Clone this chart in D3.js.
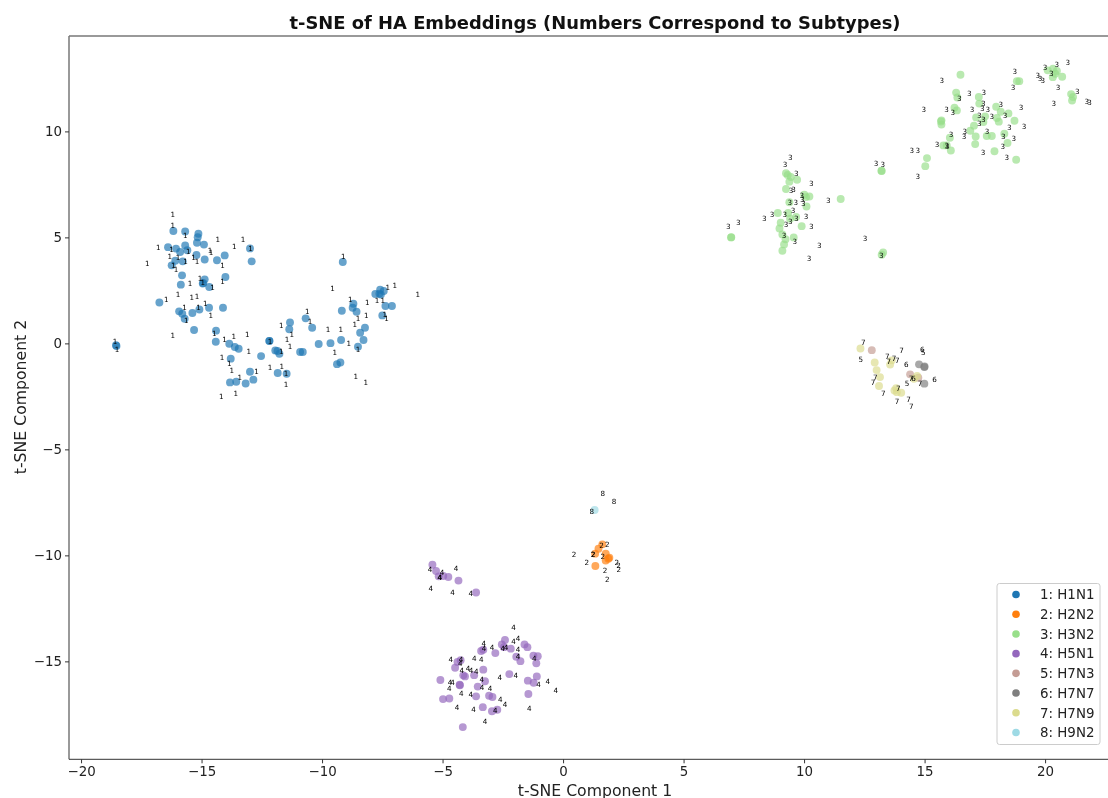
<!DOCTYPE html>
<html><head><meta charset="utf-8"><script src="https://cdn.jsdelivr.net/npm/d3@7"></script>
<style>html,body{margin:0;padding:0;background:#fff;overflow:hidden}svg{display:block;font-family:"DejaVu Sans",sans-serif;filter:blur(0.45px)}</style>
</head><body><svg id="c" width="1108" height="798"></svg>
<script>
const legendNames=["1: H1N1","2: H2N2","3: H3N2","4: H5N1","5: H7N3","6: H7N7","7: H7N9","8: H9N2"];
const colors=["#1f77b4","#ff7f0e","#98df8a","#9467bd","#c49c94","#7f7f7f","#dbdb8d","#9edae5"];
const xTicks=[-20,-15,-10,-5,0,5,10,15,20];
const yTicks=[-15,-10,-5,0,5,10];
const points1=[[-16.17,5.3],[-15.68,5.28],[-15.13,5.17],[-15.16,5.01],[-15.19,4.75],[-14.9,4.66],[-15.68,4.62],[-16.39,4.54],[-16.06,4.47],[-15.89,4.31],[-15.59,4.39],[-15.21,4.17],[-14.04,4.15],[-12.99,4.48],[-12.92,3.87],[-14.87,3.96],[-14.36,3.92],[-16.09,3.9],[-15.78,3.87],[-16.24,3.68],[-15.81,3.21],[-14.01,3.13],[-14.87,3.02],[-15.86,2.77],[-14.95,2.82],[-14.93,2.85],[-14.68,2.66],[-16.75,1.93],[-14.69,1.68],[-14.11,1.68],[-15.09,1.6],[-15.93,1.51],[-15.8,1.4],[-15.38,1.43],[-15.7,1.16],[-15.31,0.63],[-14.4,0.6],[-14.41,0.08],[-13.85,-0.02],[-13.62,-0.17],[-13.46,-0.25],[-13.79,-0.72],[-12.53,-0.6],[-12.19,0.11],[-12.18,0.12],[-11.94,-0.33],[-11.85,-0.36],[-11.77,-0.49],[-12.99,-1.34],[-11.84,-1.4],[-11.47,-1.43],[-12.85,-1.71],[-13.17,-1.89],[-13.56,-1.81],[-13.82,-1.84],[-11.33,0.99],[-11.36,0.67],[-10.91,-0.41],[-9.14,3.84],[-10.68,1.18],[-10.41,0.74],[-9.18,1.54],[-8.7,1.87],[-8.73,1.68],[-8.57,1.49],[-7.79,2.33],[-7.59,2.53],[-7.44,2.47],[-7.62,2.34],[-7.56,2.3],[-7.37,1.76],[-7.1,1.76],[-7.5,1.32],[-8.22,0.74],[-8.42,0.5],[-8.28,0.16],[-8.51,-0.16],[-9.21,0.16],[-9.65,0.01],[-10.14,-0.03],[-10.8,-0.41],[-9.24,-0.9],[-9.38,-0.98],[-18.55,-0.09],[-18.53,-0.12]];
const labels1=[[-16.19,6.08],[-16.19,5.57],[-15.67,5.09],[-14.33,4.92],[-13.28,4.92],[-13.64,4.56],[-16.79,4.54],[-16.25,4.45],[-15.55,4.32],[-14.65,4.39],[-14.61,4.31],[-12.97,4.5],[-16.32,4.1],[-15.98,4.04],[-15.33,4.07],[-15.66,3.87],[-15.19,3.85],[-17.25,3.79],[-16.17,3.68],[-16.06,3.47],[-14.13,3.69],[-15.06,3.08],[-14.13,2.94],[-14.95,2.89],[-15.48,2.82],[-14.54,2.64],[-15.98,2.31],[-16.46,2.09],[-15.41,2.15],[-15.19,2.22],[-14.85,1.87],[-15.13,1.67],[-15.71,1.68],[-14.62,1.32],[-15.63,1.08],[-16.19,0.36],[-14.47,0.49],[-14.05,0.19],[-13.66,0.32],[-13.1,0.41],[-13.04,-0.39],[-14.15,-0.68],[-13.85,-0.97],[-13.75,-1.27],[-12.72,-1.34],[-13.41,-1.62],[-14.18,-2.51],[-13.58,-2.37],[-11.69,0.85],[-11.26,0.41],[-11.45,0.19],[-12.16,0.11],[-11.33,-0.14],[-11.69,-0.36],[-12.16,-1.12],[-11.67,-1.08],[-11.49,-1.4],[-11.49,-1.93],[-9.12,4.12],[-9.56,2.59],[-7.27,2.66],[-6.98,2.74],[-6.03,2.3],[-8.83,2.09],[-8.12,1.92],[-7.72,2.03],[-7.48,2.01],[-7.4,1.37],[-7.32,1.19],[-10.61,1.52],[-10.5,1.05],[-8.16,1.31],[-8.51,1.17],[-8.64,0.88],[-9.75,0.67],[-9.22,0.65],[-8.89,0.01],[-8.51,-0.27],[-9.47,-0.42],[-8.6,-1.57],[-8.19,-1.84],[-18.59,0.09],[-18.51,-0.28]];
const points2=[[1.63,-9.48],[1.47,-9.69],[1.33,-9.92],[1.77,-9.92],[1.92,-10.11],[1.77,-10.24],[1.34,-10.5],[1.88,-10.16]];
const labels2=[[0.46,-9.94],[0.98,-10.34],[1.24,-9.98],[1.6,-9.53],[1.83,-9.48],[1.65,-10.05],[2.23,-10.34],[2.3,-10.47],[2.31,-10.67],[1.74,-10.72],[1.83,-11.15],[1.25,-9.96]];
const points3=[[6.97,5],[6.98,5.01],[9.25,8.03],[9.32,7.94],[9.45,7.85],[9.71,7.72],[9.39,7.63],[9.25,7.28],[10.01,7.01],[10.22,6.93],[10.08,6.9],[10.1,6.46],[11.52,6.81],[9.39,6.66],[8.91,6.15],[9.34,6.15],[9.67,5.96],[9.42,5.88],[9.03,5.69],[9.9,5.53],[8.98,5.42],[9.1,5.14],[9.57,5],[9.23,4.91],[9.17,4.67],[9.1,4.37],[13.21,8.14],[13.22,8.13],[13.28,4.29],[13.22,4.18],[16.49,12.67],[16.31,11.83],[16.36,11.6],[17.25,11.62],[17.27,11.31],[16.24,11.12],[16.34,10.99],[17.97,11.16],[18.16,10.93],[18.48,10.85],[15.7,10.52],[15.68,10.47],[15.7,10.32],[17.14,10.66],[17.51,10.71],[18,10.63],[18.08,10.46],[18.73,10.5],[17.44,10.44],[17.05,10.27],[16.9,10.03],[18.31,9.89],[17.12,9.76],[17.58,9.78],[17.79,9.78],[16.05,9.7],[18.44,9.45],[17.1,9.4],[15.78,9.34],[15.92,9.34],[16.09,9.1],[17.9,9.06],[18.8,8.66],[15.1,8.74],[15.03,8.36],[18.83,12.37],[18.93,12.37],[20.11,12.88],[20.33,12.96],[20.49,12.85],[20.42,12.72],[20.32,12.56],[20.71,12.58],[21.08,11.76],[21.16,11.62],[21.12,11.46]];
const labels3=[[9.43,8.76],[9.21,8.43],[9.68,8],[10.3,7.53],[9.46,7.22],[9.56,7.25],[9.9,6.98],[9.93,6.78],[11,6.76],[9.41,6.66],[9.66,6.63],[9.97,6.59],[9.54,6.27],[8.67,6.07],[9.2,6.08],[8.35,5.91],[10.08,5.97],[9.68,5.88],[9.43,5.75],[9.25,5.61],[10.3,5.52],[7.27,5.72],[6.86,5.53],[9.17,5.09],[9.61,4.8],[10.63,4.64],[10.21,4.01],[12.99,8.48],[13.27,8.43],[12.53,4.97],[13.2,4.14],[18.74,12.82],[15.71,12.41],[20,13.02],[20.49,13.14],[20.94,13.24],[20.26,12.72],[19.7,12.63],[19.79,12.49],[19.9,12.42],[18.67,12.06],[20.54,12.06],[21.34,11.9],[16.85,11.79],[17.46,11.84],[16.44,11.57],[20.36,11.33],[21.73,11.43],[21.84,11.38],[17.44,11.33],[18.16,11.29],[19,11.12],[14.97,11.02],[15.91,11.02],[16.17,10.88],[16.97,11.05],[17.39,11.07],[17.62,11.02],[17.27,10.73],[17.79,10.69],[18.34,10.73],[17.44,10.55],[17.27,10.36],[18.52,10.17],[19.13,10.24],[16.67,10],[16.64,9.75],[16.1,9.84],[17.59,10],[18.27,9.76],[18.7,9.65],[15.52,9.37],[15.92,9.32],[15.93,9.3],[18.24,9.28],[14.47,9.12],[14.72,9.09],[17.43,9.02],[18.41,8.76],[14.72,7.88]];
const points4=[[-5.42,-10.44],[-5.27,-10.74],[-5.16,-10.99],[-4.97,-10.97],[-4.76,-11.02],[-4.34,-11.19],[-3.61,-11.75],[-2.41,-13.99],[-2.54,-14.2],[-2.45,-14.33],[-2.17,-14.4],[-1.6,-14.2],[-1.48,-14.33],[-3.4,-14.51],[-3.31,-14.45],[-2.81,-14.61],[-1.94,-14.78],[-1.77,-14.99],[-1.23,-14.73],[-1.05,-14.76],[-1.11,-15.09],[-4.38,-15.03],[-4.25,-14.95],[-4.48,-15.3],[-3.31,-15.39],[-4.14,-15.66],[-4.07,-15.71],[-3.69,-15.65],[-2.23,-15.6],[-1.09,-15.71],[-1.46,-15.91],[-1.22,-16.01],[-5.09,-15.88],[-3.24,-15.94],[-4.29,-16.1],[-4.28,-16.13],[-3.54,-16.19],[-1.44,-16.54],[-3.61,-16.65],[-3.07,-16.62],[-2.93,-16.68],[-4.98,-16.78],[-4.72,-16.75],[-3.33,-17.16],[-2.95,-17.35],[-2.73,-17.28],[-4.16,-18.1]];
const labels4=[[-5.52,-10.66],[-4.44,-10.63],[-5.02,-10.8],[-5.1,-11.05],[-5.13,-11.05],[-5.49,-11.54],[-4.59,-11.73],[-3.83,-11.81],[-2.05,-13.4],[-1.87,-13.9],[-2.06,-14.06],[-3.29,-14.18],[-3.28,-14.4],[-2.95,-14.36],[-2.5,-14.4],[-2.37,-14.33],[-1.87,-14.45],[-1.87,-14.76],[-1.19,-14.88],[-4.66,-14.92],[-4.23,-14.89],[-4.26,-15.08],[-3.68,-14.88],[-3.39,-14.89],[-4.2,-15.42],[-3.94,-15.32],[-3.82,-15.42],[-3.6,-15.5],[-2.63,-15.74],[-1.96,-15.66],[-3.37,-15.86],[-4.69,-15.98],[-4.59,-15.99],[-1.02,-16.07],[-0.63,-15.96],[-0.3,-16.38],[-4.72,-16.29],[-3.36,-16.23],[-3.03,-16.26],[-4.22,-16.5],[-3.83,-16.56],[-2.6,-16.79],[-2.41,-17.03],[-4.4,-17.16],[-3.71,-17.26],[-2.81,-17.33],[-1.4,-17.22],[-3.24,-17.82]];
const points5=[[12.81,-0.32],[14.4,-1.46],[14.74,-1.62]];
const labels5=[[12.35,-0.74],[14.95,-0.41],[14.27,-1.9]];
const points6=[[14.77,-0.99],[14.99,-1.12],[15,-1.09],[14.99,-1.9]];
const labels6=[[14.91,-0.28],[14.24,-0.98],[15.41,-1.71],[14.54,-1.64]];
const points7=[[12.34,-0.24],[12.93,-0.9],[13.01,-1.26],[13.15,-1.59],[13.11,-2.01],[13.64,-0.8],[13.57,-1],[13.75,-2.22],[13.85,-2.3],[14.03,-2.33],[13.82,-2.11],[14.69,-1.54],[14.56,-1.67]];
const labels7=[[12.46,0.03],[13.45,-0.6],[13.73,-0.72],[13.51,-0.86],[13.87,-0.83],[14.04,-0.33],[12.96,-1.62],[12.86,-1.83],[14.44,-1.67],[14.81,-1.9],[13.29,-2.34],[13.91,-2.14],[13.86,-2.72],[14.33,-2.64],[14.45,-2.99]];
const points8=[[1.31,-7.86]];
const labels8=[[1.65,-7.06],[2.12,-7.44],[1.19,-7.94]];
const seriesPoints=[points1,points2,points3,points4,points5,points6,points7,points8];
const seriesLabels=[labels1,labels2,labels3,labels4,labels5,labels6,labels7,labels8];

const svg=d3.select("#c");
const x0=69,x1=1121,y0=36,y1=759.3;
const x=d3.scaleLinear().domain([-20.5,23.15]).range([x0,x1]);
const y=d3.scaleLinear().domain([-19.62,14.5]).range([y1,y0]);
const minus=d=>String(d).replace("-","\u2212");

const g=svg.append("g");
seriesPoints.forEach((pts,i)=>{
  g.append("g").selectAll("circle").data(pts).join("circle")
    .attr("cx",d=>x(d[0])).attr("cy",d=>y(d[1])).attr("r",3.95)
    .attr("fill",colors[i]).attr("fill-opacity",0.68);
});
seriesLabels.forEach((lbs,i)=>{
  g.append("g").selectAll("text").data(lbs).join("text")
    .attr("x",d=>x(d[0])).attr("y",d=>y(d[1])).attr("dy","0.35em")
    .attr("text-anchor","middle").attr("font-size",7.2).attr("fill","#000")
    .text(i+1);
});

// frame
svg.append("line").attr("x1",x0).attr("x2",x0).attr("y1",y0).attr("y2",y1).attr("stroke","#777").attr("stroke-width",1.5);
svg.append("line").attr("x1",x0).attr("x2",x1).attr("y1",y0).attr("y2",y0).attr("stroke","#777").attr("stroke-width",1.5);
svg.append("line").attr("x1",x0).attr("x2",x1).attr("y1",y1).attr("y2",y1).attr("stroke","#333").attr("stroke-width",1);

const ax=svg.append("g").attr("transform",`translate(0,${y1})`).call(d3.axisBottom(x).tickValues(xTicks).tickSize(4).tickPadding(3.5).tickFormat(minus));
const ay=svg.append("g").attr("transform",`translate(${x0},0)`).call(d3.axisLeft(y).tickValues(yTicks).tickSize(4).tickPadding(3).tickFormat(minus));
[ax,ay].forEach(a=>{
  a.select(".domain").remove();
  a.selectAll("line").attr("stroke","#333");
  a.selectAll("text").attr("font-size",13.4).attr("font-family","DejaVu Sans").attr("fill","#222");
});

svg.append("text").attr("x",595).attr("y",29).attr("text-anchor","middle").attr("font-size",17.9).attr("font-weight","bold").attr("fill","#111").text("t-SNE of HA Embeddings (Numbers Correspond to Subtypes)");
svg.append("text").attr("x",595).attr("y",796).attr("text-anchor","middle").attr("font-size",15.7).attr("fill","#222").text("t-SNE Component 1");
svg.append("text").attr("transform","translate(26,397) rotate(-90)").attr("text-anchor","middle").attr("font-size",15.7).attr("fill","#222").text("t-SNE Component 2");

// legend
const lg=svg.append("g");
lg.append("rect").attr("x",997).attr("y",583.5).attr("width",103).attr("height",161).attr("rx",2.5)
  .attr("fill","#fff").attr("fill-opacity",0.85).attr("stroke","#ccc");
const ly=d3.scalePoint().domain(legendNames).range([594.5,732.5]);
legendNames.forEach((n,i)=>{
  lg.append("circle").attr("cx",1016).attr("cy",ly(n)).attr("r",3.8).attr("fill",colors[i]);
  lg.append("text").attr("x",1040).attr("y",ly(n)).attr("dy","0.36em").attr("font-size",13.4).attr("fill","#222").text(n);
});
</script></body></html>
